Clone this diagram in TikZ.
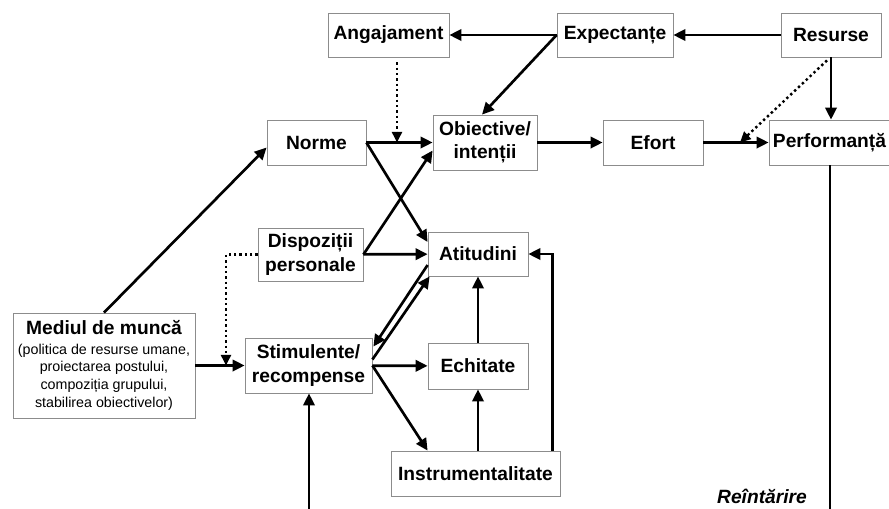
\documentclass[tikz,border=0pt]{standalone}
\usepackage{fontspec}
\setmainfont{Liberation Sans}
\usetikzlibrary{arrows.meta,calc}

\begin{document}
\begin{tikzpicture}[x=0.75pt, y=-0.75pt,
    box/.style={rectangle, draw=black!45, line width=0.6pt, inner sep=0pt, align=center, font=\fontsize{14.4}{17.3}\selectfont\bfseries},
    boxw/.style={minimum width=#1*0.75pt},
    boxh/.style={minimum height=#1*0.75pt},
    arr/.style={draw=black, line width=2pt, -{Triangle[length=9pt,width=8.5pt]}},
    link/.style={draw=black, line width=2pt},
    dotarr/.style={draw=black, line width=1.8pt, dash pattern=on 1.8pt off 2.2pt, -{Triangle[length=8pt,width=7.5pt]}}]
			\useasboundingbox (0,0) rectangle (889,508);
			
			\node[box, boxw=121, boxh=44] (angajament) at (388.5,35){Angajament};
			\node[box, boxw=116, boxh=44] (expectante) at (615,35){Expectanțe};
			\node[box, boxw=100, boxh=44] (resurse) at (831,35){Resurse};
			\node[box, boxw=99, boxh=45] (norme) at (316.5,142.5){Norme};
			\node[box, boxw=104, boxh=55] (obiective) at (485,142.5){Obiective/\\intenții};
			\node[box, boxw=100, boxh=45] (efort) at (653,142.5){Efort};
			\node[box, boxw=121, boxh=45] (performanta) at (829.5,142.5){Performanță};
			\node[box, boxw=105, boxh=53] (dispozitii) at (310.5,254.5){Dispoziții\\personale};
			\node[box, boxw=100, boxh=44] (atitudini) at (478,254){Atitudini};
			\node[box, boxw=127, boxh=55] (stimulente) at (308.5,365.5){Stimulente/\\recompense};
			\node[box, boxw=100, boxh=46] (echitate) at (478,366){Echitate};
			\node[box, boxw=169, boxh=45] (instrumentalitate) at (475.5,473.5){Instrumentalitate};
			\node[box, boxw=182, boxh=105, font=\fontsize{10.7}{13.3}\selectfont] (mediul) at (104,365.5){{\fontsize{14.4}{17}\selectfont\bfseries Mediul de muncă}\\[1pt](politica de resurse umane,\\proiectarea postului,\\compoziția grupului,\\stabilirea obiectivelor)};
			\node[font=\fontsize{14.4}{17}\selectfont\bfseries\itshape] (reintarire) at (762,496){Reîntărire};
			
			\coordinate (angjoin) at (397,142.5);
			\coordinate (resjoin) at (740,142.5);
			\coordinate (dispjoin) at (226,365.5);
			\coordinate (perfbot) at (830,512);
			\coordinate (stimbot) at (309,512);
			
			\path[arr] (resurse) edge (expectante);
			\path[arr] (expectante) edge (angajament);
			\path[arr] (norme) edge (obiective);
			\path[arr] (obiective) edge (efort);
			\path[arr] (efort) edge (performanta);
			\path[arr] (dispozitii) edge (atitudini);
			\path[arr] (mediul) edge (stimulente);
			\path[arr] (stimulente) edge (echitate);
			\path[arr] (echitate) edge (atitudini);
			
			\draw[arr] (expectante.west) -- ($(obiective.north)+(-3,0)$);
			\draw[arr] (resurse.south) -- (resurse.south |- performanta.north);
			\draw[arr] (norme.east) -- ($(atitudini.west)+(0,-12)$);
			\draw[arr] (dispozitii.east) -- ($(obiective.west)+(0,8)$);
			\draw[arr] (mediul.north) -- ($(norme.west)+(0,5)$);
			\draw[arr] ($(stimulente.east)+(0,-6)$) -- ($(atitudini.south west)+(2,0)$);
			\draw[arr] ($(atitudini.west)+(0,11)$) -- ($(stimulente.north east)+(1,9)$);
			\draw[arr] (stimulente.east) -- ($(instrumentalitate.north west)+(37,0)$);
			\draw[arr] (echitate.south |- instrumentalitate.north) -- (echitate.south);
			\draw[arr] ($(instrumentalitate.north east)+(-8,0)$) |- (atitudini.east);
			
			\draw[dotarr] ($(angajament.south)+(8.5,5)$) -- (angjoin);
			\draw[dotarr] ($(resurse.south)+(-4,3)$) -- (resjoin);
			\draw[dotarr] (dispozitii.west) -| (dispjoin);
			
			\draw[link] (perfbot |- performanta.south) -- (perfbot);
			\draw[arr] (stimbot) -- (stimbot |- stimulente.south);
\end{tikzpicture}
\end{document}
